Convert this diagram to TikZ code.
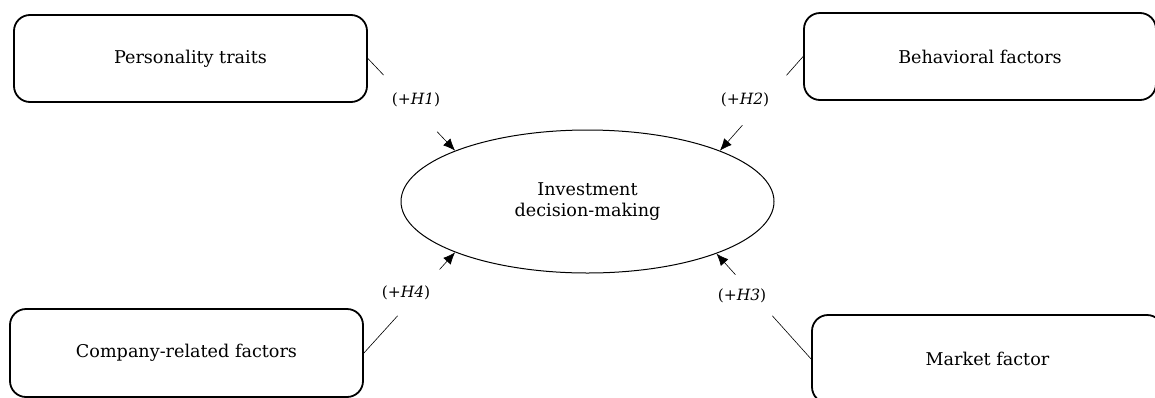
\documentclass[tikz,border=0pt]{standalone}
\usepackage{fontspec}
\setmainfont{DejaVu Serif}
\usetikzlibrary{shapes.geometric,calc,arrows.meta}
\tikzset{
  factor/.style={draw, line width=1.8pt, rounded corners=16pt, minimum width=353pt, minimum height=87pt, inner sep=0pt, font=\fontsize{17.6}{21}\selectfont},
  outcome/.style={draw, ellipse, line width=1pt, minimum width=373pt, minimum height=143pt, inner sep=0pt, align=center, font=\fontsize{17.6}{21}\selectfont},
  hyp/.style={inner sep=0pt, font=\fontsize{15.5}{19}\selectfont},
  link/.style={line width=0.6pt},
  arrowlink/.style={line width=0.6pt, -{Latex[length=12pt,width=10pt]}}
}
\begin{document}
\begin{tikzpicture}[x=1pt,y=-1pt]
\useasboundingbox (0,0) rectangle (1155,397);
\node[factor] (b1) at (190.5,58.5) {Personality traits};
\node[factor, minimum width=352pt] (b2) at (980,56.5) {Behavioral factors};
\node[factor, minimum height=88pt] (b3) at (186.5,353) {Company-related factors};
\node[factor, minimum width=351pt, minimum height=88pt] (b4) at (987.5,359) {Market factor};
\node[outcome] (e) at (587.5,201.5) {Investment\\decision-making};
\node[hyp] (h1) at (416,100) {(+\textit{H1})};
\node[hyp] (h2) at (745,100) {(+\textit{H2})};
\node[hyp] (h4) at (406,293) {(+\textit{H4})};
\node[hyp] (h3) at (742,296) {(+\textit{H3})};
% H1
\draw[link] (b1.east) -- ($(b1.east)!0.18!(e.159)$);
\draw[arrowlink] ($(b1.east)!0.795!(e.159)$) -- (e.159);
% H2
\draw[link] (b2.west) -- ($(b2.west)!0.2!(e.21)$);
\draw[arrowlink] ($(b2.west)!0.73!(e.21)$) -- (e.21);
% H4
\draw[link] (b3.east) -- ($(b3.east)!0.37!(e.201)$);
\draw[arrowlink] ($(b3.east)!0.83!(e.201)$) -- (e.201);
% H3
\draw[link] (b4.west) -- ($(b4.west)!0.41!(e.338)$);
\draw[arrowlink] ($(b4.west)!0.80!(e.338)$) -- (e.338);
\end{tikzpicture}
\end{document}
